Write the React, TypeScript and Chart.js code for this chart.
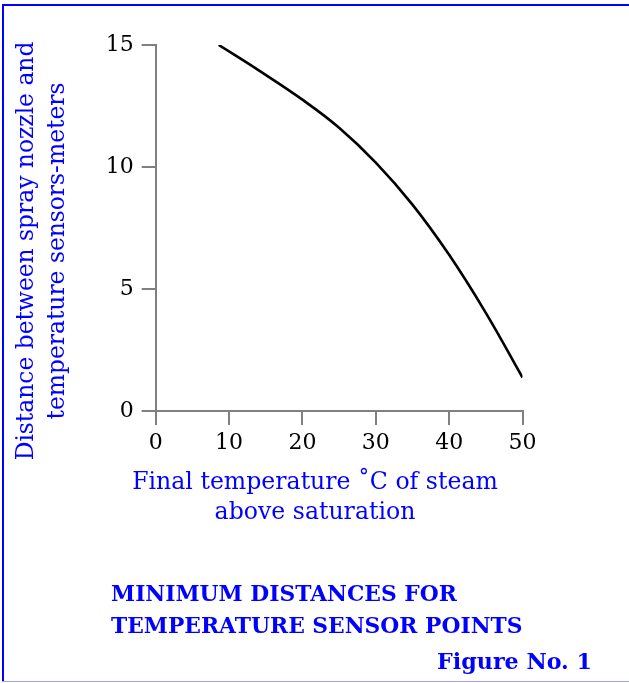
import React, { useEffect, useRef } from "react";
import { Chart, registerables } from "chart.js";

Chart.register(...registerables);

const temperatures = [8.6, 14, 20, 25, 30, 35, 40, 45, 50];
const distances = [15.0, 13.97, 12.76, 11.61, 10.18, 8.46, 6.4, 4.02, 1.37];
const xTicks = [0, 10, 20, 30, 40, 50];
const yTicks = [0, 5, 10, 15];
const yTitleLines = ["Distance between spray nozzle and", "temperature sensors-meters"];
const xTitleLines = ["Final temperature ˚C of steam", "above saturation"];
const titleLines = ["MINIMUM DISTANCES FOR", "TEMPERATURE SENSOR POINTS"];
const figureLabel = "Figure No. 1";

const BLUE = "#0000ff";
const AXIS = "#808080";

const textPlugin = {
  id: "figureText",
  beforeDraw(chart: any) {
    const ctx = chart.ctx;
    ctx.save();
    ctx.fillStyle = "#ffffff";
    ctx.fillRect(0, 0, chart.width, chart.height);
    ctx.fillStyle = BLUE;
    ctx.fillRect(2, 4, 627, 2);
    ctx.fillRect(2, 4, 2, 677);
    ctx.fillStyle = "#a0a0ff";
    ctx.fillRect(2, 681, 627, 1);
    ctx.restore();
  },
  afterDraw(chart: any) {
    const ctx = chart.ctx;
    ctx.save();
    ctx.fillStyle = BLUE;
    // y title
    ctx.font = "23.4px 'DejaVu Serif'";
    ctx.textAlign = "center";
    ctx.textBaseline = "alphabetic";
    const yBases = [33, 64];
    yTitleLines.forEach((t, i) => {
      ctx.save();
      ctx.translate(yBases[i], 251);
      ctx.rotate(-Math.PI / 2);
      ctx.fillText(t, 0, 0);
      ctx.restore();
    });
    // x title
    ctx.font = "23.6px 'DejaVu Serif'";
    const xBases = [489, 519];
    xTitleLines.forEach((t, i) => {
      ctx.fillText(t, 315, xBases[i]);
    });
    // main title
    ctx.textAlign = "left";
    ctx.font = "bold 21.8px 'DejaVu Serif'";
    const tBases = [601, 632.5];
    titleLines.forEach((t, i) => {
      ctx.fillText(t, 111, tBases[i]);
    });
    ctx.textAlign = "right";
    ctx.font = "bold 22.2px 'DejaVu Serif'";
    ctx.fillText(figureLabel, 592, 669);
    ctx.restore();
  },
};

export default function App() {
  const ref = useRef<HTMLCanvasElement>(null);
  useEffect(() => {
    if (!ref.current) return;
    const chart = new Chart(ref.current, {
      type: "line",
      data: {
        datasets: [
          {
            data: temperatures.map((x, i) => ({ x, y: distances[i] })),
            borderColor: "#000000",
            borderWidth: 2.6,
            pointRadius: 0,
            fill: false,
            tension: 0.4,
          },
        ],
      },
      options: {
        animation: false,
        responsive: false,
        devicePixelRatio: 1,
        layout: { padding: { left: 0, top: 45, right: 106.5, bottom: 212 } },
        plugins: {
          legend: { display: false },
          tooltip: { enabled: false },
          title: { display: false },
        },
        scales: {
          x: {
            type: "linear",
            min: 0,
            max: 50,
            afterBuildTicks: (scale: any) => {
              scale.ticks = xTicks.map((v) => ({ value: v }));
            },
            afterFit: (scale: any) => {
              scale.height = 60;
            },
            grid: {
              drawOnChartArea: false,
              drawTicks: true,
              tickLength: 14,
              color: AXIS,
              lineWidth: 2,
            },
            border: { display: true, color: AXIS, width: 2 },
            ticks: {
              color: "#000000",
              font: { family: "'DejaVu Serif'", size: 22 },
              padding: 5,
              maxRotation: 0,
            },
          },
          y: {
            type: "linear",
            min: 0,
            max: 15,
            afterBuildTicks: (scale: any) => {
              scale.ticks = yTicks.map((v) => ({ value: v }));
            },
            afterFit: (scale: any) => {
              scale.width = 155.7;
            },
            grid: {
              drawOnChartArea: false,
              drawTicks: true,
              tickLength: 14,
              color: AXIS,
              lineWidth: 2,
            },
            border: { display: true, color: AXIS, width: 2 },
            ticks: {
              color: "#000000",
              font: { family: "'DejaVu Serif'", size: 22 },
              padding: 8,
            },
          },
        },
      },
      plugins: [textPlugin],
    } as any);
    return () => chart.destroy();
  }, []);
  return (
    <div style={{ position: "absolute", left: 0, top: 0, width: 629, height: 683, overflow: "hidden" }}>
      <canvas ref={ref} width={629} height={683} style={{ display: "block" }} />
    </div>
  );
}
